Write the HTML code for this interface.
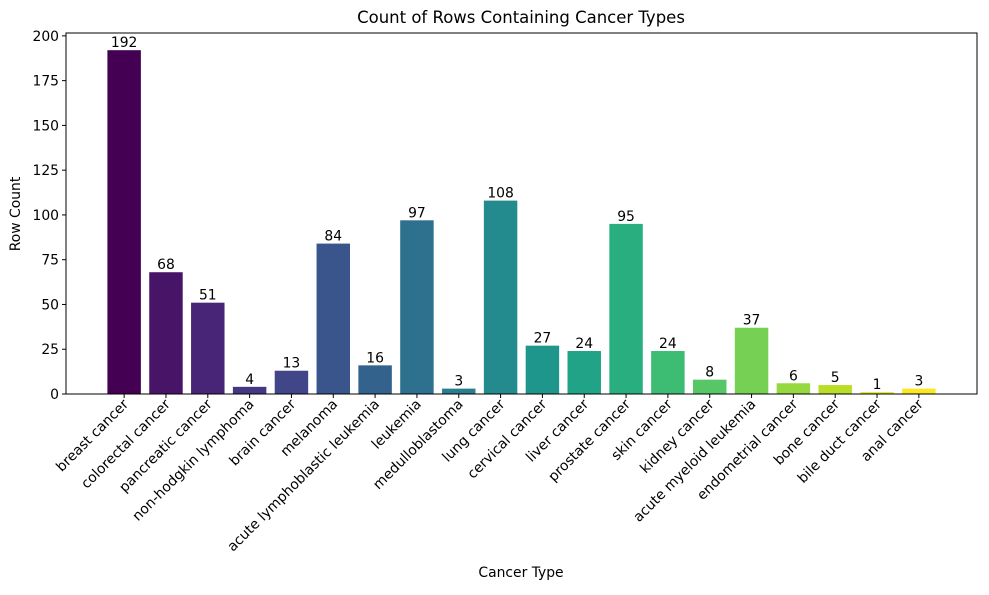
<!DOCTYPE html>
<html><head><meta charset="utf-8"><style>
body{margin:0;background:#fff;}
svg text{font-family:"DejaVu Sans","Liberation Sans",sans-serif;fill:#000;}
</style></head><body>
<svg id="chart" width="989" height="590">
<text x="521" y="23" font-size="16.5" text-anchor="middle">Count of Rows Containing Cancer Types</text>
<text x="521" y="577" font-size="13.9" text-anchor="middle">Cancer Type</text>
<text transform="translate(20,214) rotate(-90)" font-size="13.9" text-anchor="middle">Row Count</text>
<g id="bars"></g><g id="yticks"></g><g id="xticks"></g>
<rect x="66" y="33" width="911" height="361" fill="none" stroke="#000" stroke-width="1"/>
</svg>
<script>
const categories=["breast cancer","colorectal cancer","pancreatic cancer","non-hodgkin lymphoma","brain cancer","melanoma","acute lymphoblastic leukemia","leukemia","medulloblastoma","lung cancer","cervical cancer","liver cancer","prostate cancer","skin cancer","kidney cancer","acute myeloid leukemia","endometrial cancer","bone cancer","bile duct cancer","anal cancer"];
const values=[192,68,51,4,13,84,16,97,3,108,27,24,95,24,8,37,6,5,1,3];
const yTicks=[0,25,50,75,100,125,150,175,200];
const colors=["#440154","#481467","#482576","#453781","#404688","#39558c","#33638d","#2d718e","#287d8e","#238a8d","#1f968b","#20a386","#29af7f","#3dbc74","#56c667","#75d054","#95d840","#bade28","#dde318","#fde725"];
const NS="http://www.w3.org/2000/svg";
const x0=66,x1=977,yB=394,yT=33;
const n=categories.length,lo=-0.4-(n-0.2)*0.05,hi=n-0.6+(n-0.2)*0.05;
const xs=i=>x0+(i-lo)/(hi-lo)*(x1-x0);
const ymax=201.6;
const ys=v=>yB-v/ymax*(yB-yT);
const bw=0.8*(x1-x0)/(hi-lo);
function mk(t,a,p){const e=document.createElementNS(NS,t);for(const k in a)e.setAttribute(k,a[k]);p.appendChild(e);return e;}
const gb=document.getElementById('bars'),gy=document.getElementById('yticks'),gx=document.getElementById('xticks');
values.forEach((v,i)=>{
 const r=mk('rect',{x:xs(i)-bw/2,y:ys(v),width:bw,height:yB-ys(v),fill:colors[i]},gb);
 
 
 const t=mk('text',{x:xs(i),y:ys(v)-3,'font-size':13.9,'text-anchor':'middle'},gb);
 t.textContent=v;
 
 
 const tk=mk('line',{x1:xs(i),x2:xs(i),y1:yB,y2:yB+4,stroke:'#000'},gx);
 
 
 const lb=mk('text',{transform:`translate(${xs(i)+5},${yB+11}) rotate(-45)`,'font-size':13.9,'text-anchor':'end'},gx);
 lb.textContent=categories[i];
 
 
});
yTicks.forEach(v=>{
 const tk=mk('line',{x1:x0-4,x2:x0,y1:ys(v),y2:ys(v),stroke:'#000'},gy);
 
 
 const lb=mk('text',{x:x0-7,y:ys(v)+5,'font-size':13.9,'text-anchor':'end'},gy);
 lb.textContent=v;
 
 
});
</script>
</body></html>
